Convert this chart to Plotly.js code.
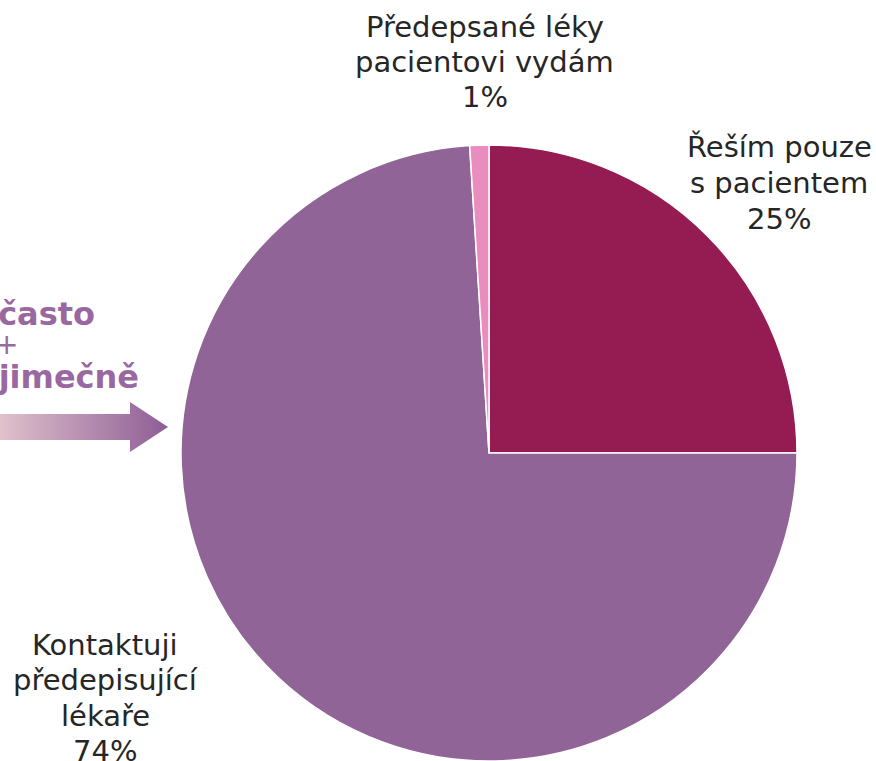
<!DOCTYPE html>
<html>
<head>
<meta charset="utf-8">
<script src="https://cdn.plot.ly/plotly-3.0.1.min.js"></script>
<style>html,body{margin:0;padding:0;background:#fff;}#chart{width:876px;height:761px;}</style>
</head>
<body>
<div id="chart"></div>
<script>
// Data
const sliceLabels = ["Řeším pouze<br>s pacientem", "Kontaktuji<br>předepisující<br>lékaře", "Předepsané léky<br>pacientovi vydám"];
const sliceValues = [25, 74, 1];
const sliceColors = ["#951C52", "#916498", "#E98DBF"];
const sideLines = ["Velmi často", "+", "Výjimečně"];

const W = 876, H = 761;
const px = x => x / W;
const py = y => 1 - y / H;

// label block centres (pixels) and line spacing
const labelPos = [[779, 183], [105, 698], [485, 62]];
const lineGap = 35.5;

const annotations = [];
sliceLabels.forEach((l, i) => {
  const lines = l.split("<br>").concat([sliceValues[i] + "%"]);
  const n = lines.length;
  lines.forEach((t, j) => {
    annotations.push({
      xref: "paper", yref: "paper",
      x: px(labelPos[i][0]),
      y: py(labelPos[i][1] + (j - (n - 1) / 2) * lineGap),
      xanchor: "center", yanchor: "middle",
      text: t, showarrow: false,
      font: {family: "DejaVu Sans, Verdana, sans-serif", size: 29, color: "#262626"}
    });
  });
});

const sidePos = [[97, 314, true, 32], [20, 344, false, 28], [141, 377, true, 32]];
sideLines.forEach((t, i) => {
  annotations.push({
    xref: "paper", yref: "paper",
    x: px(sidePos[i][0]), y: py(sidePos[i][1]),
    xanchor: "right", yanchor: "middle",
    text: sidePos[i][2] ? "<b>" + t + "</b>" : t,
    showarrow: false,
    font: {family: "DejaVu Sans, Verdana, sans-serif", size: sidePos[i][3], color: "#9A68A0"}
  });
});

const arrowSvg = '<svg xmlns="http://www.w3.org/2000/svg" width="170" height="52" viewBox="0 0 170 52">' +
  '<defs><linearGradient id="g" x1="0" y1="0" x2="1" y2="0">' +
  '<stop offset="0" stop-color="#E0C1CC"/><stop offset="1" stop-color="#8D5D95"/></linearGradient></defs>' +
  '<path d="M0 12 L130 12 L130 0 L168 25 L130 50 L130 38 L0 38 Z" fill="url(#g)"/></svg>';

const layout = {
  width: W, height: H,
  margin: {l: 0, r: 0, t: 0, b: 0},
  paper_bgcolor: "#ffffff",
  showlegend: false,
  annotations: annotations,
  images: [{
    source: "data:image/svg+xml;charset=utf-8," + encodeURIComponent(arrowSvg),
    xref: "paper", yref: "paper",
    x: px(0), y: py(402), sizex: px(170), sizey: 52 / H,
    xanchor: "left", yanchor: "top", sizing: "stretch", layer: "above"
  }]
};

const trace = {
  type: "pie",
  values: sliceValues,
  labels: sliceLabels,
  sort: false,
  direction: "clockwise",
  rotation: 0,
  marker: {colors: sliceColors, line: {color: "#ffffff", width: 1.5}},
  textinfo: "none",
  hoverinfo: "none",
  domain: {x: [181 / W, 797 / W], y: [0, 616 / H]}
};

Plotly.newPlot("chart", [trace], layout, {staticPlot: true, displayModeBar: false});
</script>
</body>
</html>
